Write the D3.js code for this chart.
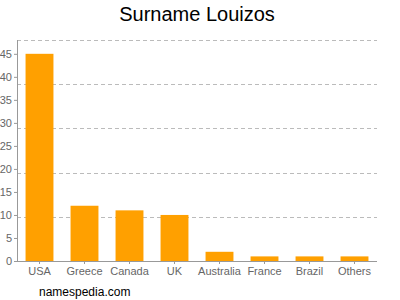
<!DOCTYPE html>
<html>
<head>
<meta charset="utf-8">
<script src="https://cdn.jsdelivr.net/npm/d3@7"></script>
<style>
  body { margin: 0; background: #fff; }
  text { font-family: Arial, "Liberation Sans", sans-serif; }
</style>
</head>
<body>
<div id="chart"></div>
<script>
// data
let countries = ["USA", "Greece", "Canada", "UK", "Australia", "France", "Brazil", "Others"];
let counts = [45, 12, 11, 10, 2, 1, 1, 1];
let yTicks = [0, 5, 10, 15, 20, 25, 30, 35, 40, 45];
let yMax = 48;

let width = 400,
    height = 300,
    margin = {top: 40, bottom: 39, left: 17, right: 23};

let svg = d3.select("#chart")
    .append("svg")
    .attr("width", width)
    .attr("height", height);

let x = d3.scaleBand()
    .domain(countries)
    .range([margin.left, width - margin.right])
    .paddingInner(0.38)
    .paddingOuter(0.19);

let y = d3.scaleLinear()
    .domain([0, yMax])
    .range([height - margin.bottom, margin.top]);

// dashed grid lines, five equal divisions
svg.append("g")
    .selectAll("line")
    .data(d3.range(1, 6).map(i => yMax * i / 5))
    .enter().append("line")
    .attr("x1", margin.left)
    .attr("x2", width - margin.right)
    .attr("y1", d => Math.round(y(d)) + 0.5)
    .attr("y2", d => Math.round(y(d)) + 0.5)
    .attr("stroke", "#bbb")
    .attr("stroke-dasharray", "4,3");

// bars
svg.append("g")
    .selectAll("rect")
    .data(countries)
    .enter().append("rect")
    .attr("x", d => x(d))
    .attr("width", x.bandwidth())
    .attr("y", (d, i) => y(counts[i]))
    .attr("height", (d, i) => y(0) - y(counts[i]))
    .attr("fill", "#ffa000");

// y axis
let yAxis = svg.append("g")
    .attr("transform", "translate(" + margin.left + ",0)")
    .call(d3.axisLeft(y).tickValues(yTicks).tickSize(3).tickPadding(2));
yAxis.select(".domain").attr("stroke", "#999").attr("d", "M0.5," + y(yMax) + "V" + y(0));
yAxis.selectAll(".tick line").attr("stroke", "#999");
yAxis.selectAll("text").attr("fill", "#666").style("font-size", "11px");

// x axis
let xAxis = svg.append("g")
    .attr("transform", "translate(0," + (height - margin.bottom) + ")")
    .call(d3.axisBottom(x).tickSize(3).tickPadding(3));
xAxis.select(".domain").attr("stroke", "#999").attr("d", "M" + margin.left + ",0.5H" + (width - margin.right));
xAxis.selectAll(".tick line").attr("stroke", "#999");
xAxis.selectAll("text").attr("fill", "#666").style("font-size", "11px");

// title and credit
svg.append("text")
    .attr("x", 197)
    .attr("y", 21)
    .attr("text-anchor", "middle")
    .style("font-size", "20px")
    .attr("fill", "#000")
    .text("Surname Louizos");

svg.append("text")
    .attr("x", 39)
    .attr("y", 296)
    .style("font-size", "12px")
    .attr("fill", "#000")
    .text("namespedia.com");
</script>
</body>
</html>
